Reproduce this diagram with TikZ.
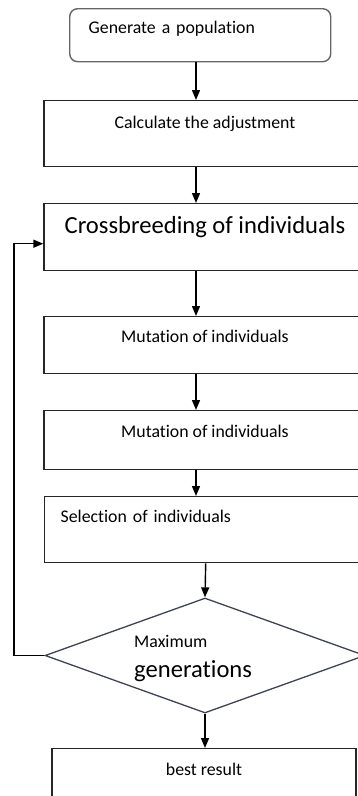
\documentclass[tikz,border=0pt]{standalone}
\usepackage{fontspec}
\setmainfont{Carlito}[Ligatures=NoCommon]
\usepackage{tikz}
\usetikzlibrary{shapes,arrows.meta,positioning,calc}

\definecolor{slate}{RGB}{62,66,82}
\newcommand{\smallfnt}{\fontsize{17.8}{21}\selectfont}
\newcommand{\bigfnt}{\fontsize{24.6}{29}\selectfont}

\begin{document}
\begin{tikzpicture}[x=1pt, y=-1pt,
    block/.style={draw=black!85, line width=1.4pt, inner sep=0pt, font=\smallfnt},
    decision/.style={diamond, draw=slate, line width=1.3pt, inner sep=0pt, minimum width=320pt, minimum height=115pt},
    arrow/.style={-{Triangle[length=10pt,width=8pt]}, line width=1.4pt}]
    \useasboundingbox (0,0) rectangle (358,796);

    % Start
    \node[block, draw=black!60, rounded corners=8pt, anchor=north west, text width=223pt, inner xsep=19pt, align=left, text height=25pt, text depth=28pt] (gen) at (69,8) {Generate a population};

    % Main steps
    \node[block, anchor=north, minimum width=322pt, text height=28pt, text depth=38pt] (calc) at (205,100) {Calculate the adjustment};
    \node[block, anchor=north, minimum width=322pt, text height=30pt, text depth=37pt, font=\bigfnt] (cross) at (205,203) {Crossbreeding of individuals};
    \node[block, anchor=north, minimum width=322pt, text height=26pt, text depth=31pt] (mut1) at (205,316) {Mutation of individuals};
    \node[block, anchor=north, minimum width=322pt, text height=27pt, text depth=32pt] (mut2) at (205,410) {Mutation of individuals};
    \node[block, anchor=north west, text width=290pt, inner xsep=16pt, align=left, text height=26pt, text depth=40pt] (sel) at (44,496) {Selection of individuals};

    % Stop test
    \node[decision] (dia) at (205,655.5) {};
    \node[font=\smallfnt, align=left, anchor=base west, inner sep=0pt] (dtext) at (134,677) {Maximum\\[9pt]{\bigfnt generations}};

    % Result
    \node[block, anchor=north, minimum width=304pt, text height=27pt, text depth=40pt] (best) at (204,748) {best result};

    % Connectors
    \coordinate (axis) at (196,0);
    \draw[arrow] (axis |- gen.south) -- (axis |- calc.north);
    \draw[arrow] (axis |- calc.south) -- (axis |- cross.north);
    \draw[arrow] (axis |- cross.south) -- (axis |- mut1.north);
    \draw[arrow] (axis |- mut1.south) -- (axis |- mut2.north);
    \draw[arrow] (axis |- mut2.south) -- (axis |- sel.north);
    \draw[arrow] (sel.south) -- (dia.north);
    \draw[arrow] (dia.south) -- (dia.south |- best.north);

    % Loop back
    \coordinate (back) at (14,655.5);
    \draw[arrow] (dia.west) -- (back) |- ([yshift=-6.5pt]cross.west);
\end{tikzpicture}
\end{document}
